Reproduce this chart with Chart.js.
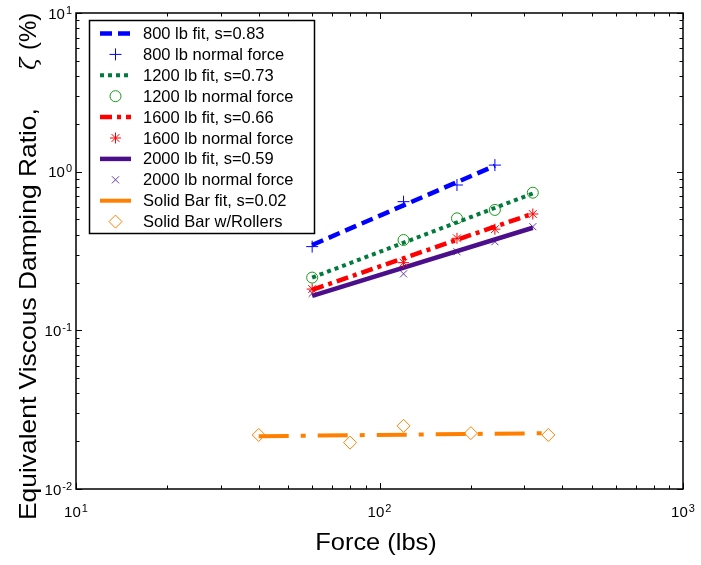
<!DOCTYPE html>
<html>
<head>
<meta charset="utf-8">
<script src="https://cdn.jsdelivr.net/npm/chart.js@4.4.1/dist/chart.umd.min.js"></script>
<style>
  html, body { margin: 0; padding: 0; background: #fff; }
  #wrap { width: 701px; height: 565px; }
</style>
</head>
<body>
<div id="wrap"><canvas id="chart" width="701" height="565"></canvas></div>
<script>
// --- data: force (lbs) vs equivalent viscous damping ratio (%) ---
const force800 = [60, 120, 180, 240];
const force = [60, 120, 180, 240, 320];
const forceBar = [40, 80, 120, 200, 360];

const zeta800 = [0.337, 0.647, 0.824, 1.10];
const zeta1200 = [0.215, 0.371, 0.508, 0.574, 0.737];
const zeta1600 = [0.182, 0.267, 0.380, 0.434, 0.541];
const zeta2000 = [0.171, 0.227, 0.313, 0.362, 0.450];
const zetaBar = [0.0219, 0.0196, 0.0250, 0.0225, 0.0219];

// power-law fit lines (end points)
const fitForce800 = [60, 240];
const fit800 = [0.345, 1.09];
const fitForce = [60, 320];
const fit1200 = [0.215, 0.729];
const fit1600 = [0.180, 0.544];
const fit2000 = [0.165, 0.443];
const fitForceBar = [40, 360];
const fitBar = [0.0215, 0.0225];

// axes: decades and their exponents
const xDecades = [10, 100, 1000];
const xExponents = ['1', '2', '3'];
const yDecades = [0.01, 0.1, 1, 10];
const yExponents = ['-2', '-1', '0', '1'];
const minorSteps = [2, 3, 4, 5, 6, 7, 8, 9];

const FONT = '"Liberation Sans", Arial, sans-serif';

function pts(xs, ys) {
    return xs.map((x, i) => ({ x: x, y: ys[i] }));
}

function fitLine(label, xs, ys, color, dash, width) {
    return {
        label: label, data: pts(xs, ys), showLine: true,
        borderColor: color, borderWidth: width, borderDash: dash,
        pointRadius: 0, pointHoverRadius: 0, fill: false
    };
}

function markers(label, xs, ys, color, style, radius) {
    return {
        label: label, data: pts(xs, ys), showLine: false,
        pointStyle: style, pointRadius: radius, pointHoverRadius: radius,
        borderColor: color, backgroundColor: 'rgba(0,0,0,0)', pointBorderWidth: 1
    };
}

const datasets = [
    fitLine('800 lb fit, s=0.83', fitForce800, fit800, '#0000ff', [12, 6], 4.5),
    markers('800 lb normal force', force800, zeta800, '#0000ff', 'cross', 6),
    fitLine('1200 lb fit, s=0.73', fitForce, fit1200, '#007a3d', [4, 4], 4),
    markers('1200 lb normal force', force, zeta1200, '#1a9a1a', 'circle', 5.5),
    fitLine('1600 lb fit, s=0.66', fitForce, fit1600, '#ff0000', [12, 5, 4, 5], 4.5),
    markers('1600 lb normal force', force, zeta1600, '#ff0000', 'star', 5.5),
    fitLine('2000 lb fit, s=0.59', fitForce, fit2000, '#4b0f8c', [], 4.5),
    markers('2000 lb normal force', force, zeta2000, '#6a3aa8', 'crossRot', 5),
    fitLine('Solid Bar fit, s=0.02', fitForceBar, fitBar, '#ff8000', [30, 12, 5, 12], 4),
    markers('Solid Bar w/Rollers', forceBar, zetaBar, '#ff8000', 'rectRot', 6.5)
];
// the legend shows the solid bar fit as a plain line
datasets[8].legendDash = [];

// text stretched along its baseline
function wideText(ctx, text, x, y, sx) {
    ctx.save();
    ctx.translate(x, y);
    ctx.scale(sx, 1);
    ctx.fillText(text, 0, 0);
    ctx.restore();
}

// frame, inward ticks, tick labels, axis titles and the boxed legend
const decorations = {
    id: 'decorations',
    afterDraw(chart) {
        const ctx = chart.ctx;
        const a = chart.chartArea;
        const xs = chart.scales.x, ys = chart.scales.y;
        ctx.save();

        // frame
        ctx.strokeStyle = '#000';
        ctx.lineWidth = 1.5;
        ctx.strokeRect(a.left, a.top, a.right - a.left, a.bottom - a.top);

        // ticks on all four sides
        ctx.lineWidth = 1;
        ctx.beginPath();
        xDecades.forEach((d, i) => {
            const vals = [d];
            if (i < xDecades.length - 1) minorSteps.forEach(m => vals.push(d * m));
            vals.forEach((v, j) => {
                const px = Math.round(xs.getPixelForValue(v)) + 0.5;
                const len = j === 0 ? 6 : 3.5;
                ctx.moveTo(px, a.bottom); ctx.lineTo(px, a.bottom - len);
                ctx.moveTo(px, a.top); ctx.lineTo(px, a.top + len);
            });
        });
        yDecades.forEach((d, i) => {
            const vals = [d];
            if (i < yDecades.length - 1) minorSteps.forEach(m => vals.push(d * m));
            vals.forEach((v, j) => {
                const py = Math.round(ys.getPixelForValue(v)) + 0.5;
                const len = j === 0 ? 6 : 3.5;
                ctx.moveTo(a.left, py); ctx.lineTo(a.left + len, py);
                ctx.moveTo(a.right, py); ctx.lineTo(a.right - len, py);
            });
        });
        ctx.stroke();

        // tick labels: 10 with a raised exponent
        ctx.fillStyle = '#000';
        ctx.textBaseline = 'alphabetic';
        const baseFont = '15px ' + FONT, expFont = '11px ' + FONT;
        function measure(e) {
            ctx.font = baseFont; const w1 = ctx.measureText('10').width;
            ctx.font = expFont; const w2 = ctx.measureText(e).width;
            return [w1, w2];
        }
        function power(e, x, y) {
            ctx.textAlign = 'left';
            ctx.font = baseFont; ctx.fillText('10', x, y);
            const w1 = ctx.measureText('10').width;
            ctx.font = expFont; ctx.fillText(e, x + w1 + 1, y - 5);
        }
        xDecades.forEach((d, i) => {
            const [w1, w2] = measure(xExponents[i]);
            const px = xs.getPixelForValue(d);
            power(xExponents[i], px - (w1 + w2 + 1) / 2, 517);
        });
        yDecades.forEach((d, i) => {
            const [w1, w2] = measure(yExponents[i]);
            const py = ys.getPixelForValue(d);
            power(yExponents[i], 72 - (w1 + w2 + 1), py + 5.5);
        });

        // axis titles
        ctx.font = '24px ' + FONT;
        ctx.textAlign = 'left';
        const fw = ctx.measureText('Force (lbs)').width * 1.06;
        wideText(ctx, 'Force (lbs)', 376 - fw / 2, 550, 1.06);

        ctx.save();
        ctx.translate(36, 520);
        ctx.rotate(-Math.PI / 2);
        ctx.textAlign = 'left';
        ctx.font = '24px ' + FONT;
        wideText(ctx, 'Equivalent Viscous Damping Ratio,', 0, 0, 1.1);
        ctx.font = 'italic 23px "DejaVu Serif", serif';
        ctx.fillText('\u03B6', 450, 0);
        ctx.font = '24px ' + FONT;
        ctx.fillText('(%)', 470, 0);
        ctx.restore();

        // legend
        const lx = 89.5, ly = 20.5, lw = 225, lh = 213;
        ctx.fillStyle = '#fff';
        ctx.fillRect(lx, ly, lw, lh);
        ctx.strokeStyle = '#000';
        ctx.lineWidth = 1.5;
        ctx.strokeRect(lx, ly, lw, lh);
        ctx.font = '16.5px ' + FONT;
        ctx.textBaseline = 'middle';
        chart.data.datasets.forEach((ds, i) => {
            const y = 33.5 + i * 20.9;
            if (ds.showLine) {
                ctx.strokeStyle = ds.borderColor;
                ctx.lineWidth = ds.borderWidth;
                ctx.setLineDash(ds.legendDash || ds.borderDash);
                ctx.beginPath();
                ctx.moveTo(100, y); ctx.lineTo(131, y);
                ctx.stroke();
                ctx.setLineDash([]);
            } else {
                ctx.strokeStyle = ds.borderColor;
                ctx.fillStyle = 'rgba(0,0,0,0)';
                ctx.lineWidth = 1;
                Chart.helpers.drawPoint(ctx, {
                    pointStyle: ds.pointStyle, rotation: 0,
                    radius: ds.pointRadius, borderWidth: 1
                }, 115.5, y);
            }
            ctx.fillStyle = '#000';
            ctx.textAlign = 'left';
            ctx.fillText(ds.label, 143, y + 1);
        });
        ctx.restore();
    }
};

document.addEventListener('DOMContentLoaded', () => {
    const ctx = document.getElementById('chart').getContext('2d');
    new Chart(ctx, {
        type: 'scatter',
        data: { datasets: datasets },
        options: {
            responsive: false,
            animation: false,
            layout: { padding: { left: 76, right: 18, top: 13, bottom: 76 } },
            plugins: { legend: { display: false }, tooltip: { enabled: false } },
            scales: {
                x: { type: 'logarithmic', min: 10, max: 1000, display: false },
                y: { type: 'logarithmic', min: 0.01, max: 10, display: false }
            }
        },
        plugins: [decorations]
    });
});
</script>
</body>
</html>
